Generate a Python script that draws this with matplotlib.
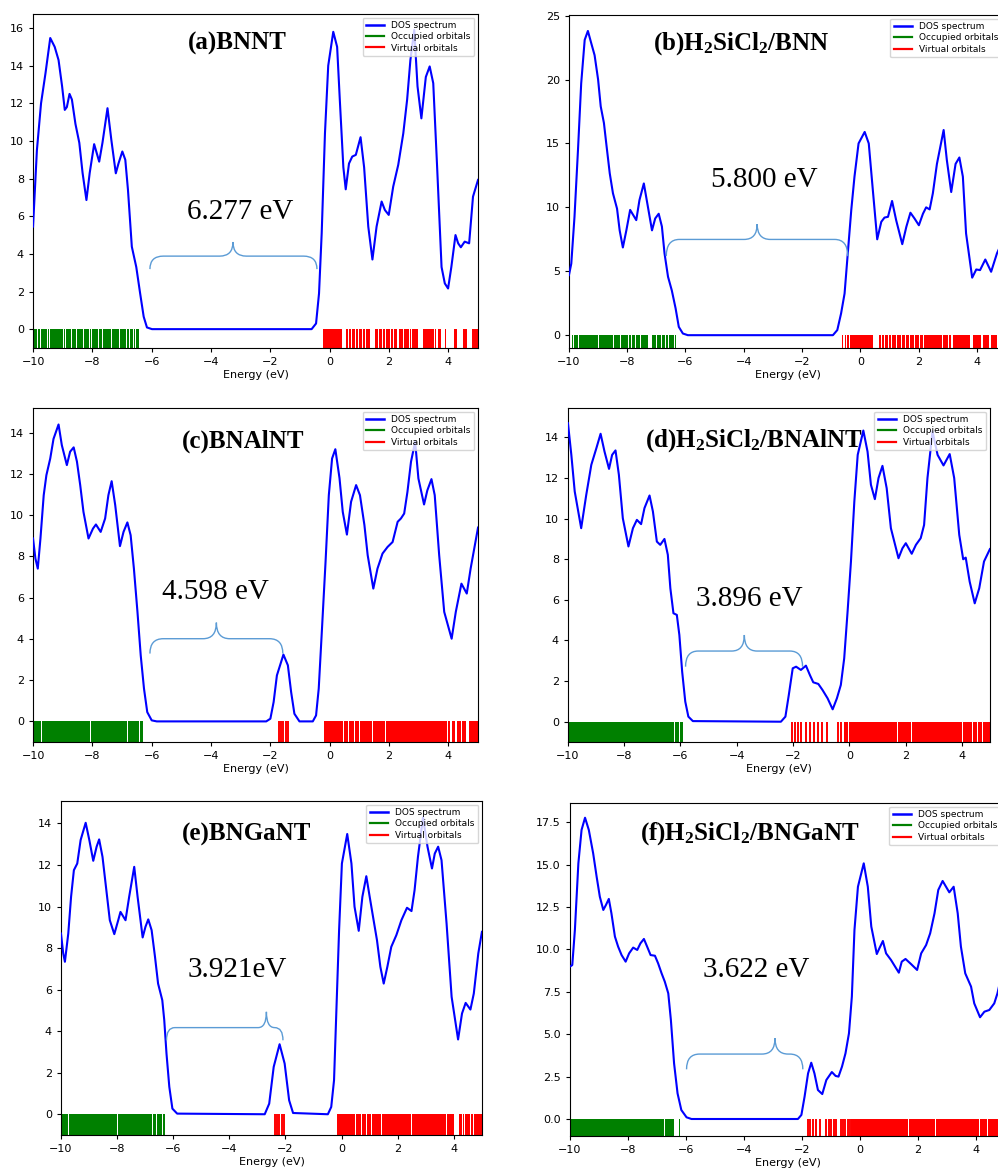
import matplotlib.pyplot as plt
import numpy as np
from matplotlib.lines import Line2D
from matplotlib.path import Path
from matplotlib.patches import PathPatch

plt.rcParams['mathtext.fontset'] = 'custom'
plt.rcParams['mathtext.rm'] = 'Liberation Serif:bold'
plt.rcParams['mathtext.it'] = 'Liberation Serif:bold'
plt.rcParams['mathtext.bf'] = 'Liberation Serif:bold'

# ---- DOS curves, (energy eV, DOS) ----
a_curve = [(-10.0, 5.45), (-9.87, 9.5), (-9.73, 12.0), (-9.58, 13.6), (-9.42, 15.47), (-9.27, 15.0),
           (-9.14, 14.3), (-9.02, 12.9), (-8.93, 11.65), (-8.86, 11.8), (-8.77, 12.5), (-8.69, 12.2),
           (-8.57, 10.9), (-8.44, 9.9), (-8.33, 8.3), (-8.20, 6.86), (-8.09, 8.3), (-7.94, 9.83),
           (-7.77, 8.9), (-7.66, 9.9), (-7.49, 11.74), (-7.36, 10.05), (-7.21, 8.28), (-7.12, 8.8),
           (-6.99, 9.44), (-6.89, 9.0), (-6.80, 7.4), (-6.67, 4.38), (-6.52, 3.3), (-6.39, 1.9),
           (-6.27, 0.66), (-6.16, 0.09), (-5.99, 0.0), (-0.61, 0.0), (-0.46, 0.3), (-0.36, 1.9),
           (-0.27, 5.1), (-0.16, 10.4), (-0.05, 14.0), (0.12, 15.8), (0.25, 15.0), (0.34, 12.2),
           (0.46, 8.6), (0.54, 7.43), (0.65, 8.8), (0.76, 9.17), (0.88, 9.26), (1.04, 10.2),
           (1.16, 8.6), (1.30, 5.45), (1.44, 3.7), (1.58, 5.45), (1.75, 6.78), (1.86, 6.33),
           (1.99, 6.07), (2.14, 7.57), (2.31, 8.73), (2.48, 10.4), (2.61, 12.2), (2.72, 14.3),
           (2.85, 15.9), (2.96, 12.9), (3.09, 11.2), (3.24, 13.4), (3.37, 13.96), (3.49, 13.07),
           (3.62, 8.64), (3.77, 3.3), (3.88, 2.43), (3.99, 2.16), (4.10, 3.3), (4.24, 5.0),
           (4.33, 4.56), (4.42, 4.35), (4.55, 4.65), (4.70, 4.56), (4.83, 7.04), (5.0, 7.93)]

b_curve = [(-10.0, 4.7), (-9.92, 5.6), (-9.81, 9.26), (-9.69, 14.5), (-9.58, 19.7), (-9.46, 23.1),
           (-9.35, 23.8), (-9.23, 22.8), (-9.12, 21.9), (-9.00, 20.0), (-8.91, 17.9), (-8.80, 16.6),
           (-8.72, 15.0), (-8.60, 12.66), (-8.49, 11.1), (-8.35, 9.9), (-8.26, 8.2), (-8.15, 6.86),
           (-8.03, 8.2), (-7.90, 9.8), (-7.69, 9.0), (-7.58, 10.57), (-7.43, 11.87), (-7.31, 10.3),
           (-7.15, 8.2), (-7.04, 9.13), (-6.92, 9.5), (-6.81, 8.5), (-6.72, 6.4), (-6.60, 4.57),
           (-6.47, 3.5), (-6.34, 2.1), (-6.23, 0.65), (-6.09, 0.13), (-5.92, 0.0), (-0.94, 0.0),
           (-0.79, 0.4), (-0.66, 1.7), (-0.54, 3.26), (-0.43, 6.4), (-0.31, 9.8), (-0.20, 12.4),
           (-0.06, 15.0), (0.15, 15.9), (0.29, 15.0), (0.43, 11.35), (0.58, 7.5), (0.72, 8.87),
           (0.83, 9.2), (0.95, 9.26), (1.09, 10.5), (1.23, 9.0), (1.44, 7.12), (1.58, 8.48),
           (1.72, 9.58), (1.86, 9.13), (2.01, 8.6), (2.15, 9.5), (2.26, 10.0), (2.38, 9.84),
           (2.49, 11.1), (2.63, 13.4), (2.86, 16.05), (2.97, 13.7), (3.12, 11.2), (3.27, 13.4),
           (3.40, 13.9), (3.52, 12.4), (3.63, 7.96), (3.84, 4.5), (3.98, 5.14), (4.11, 5.09),
           (4.29, 5.92), (4.49, 4.96), (4.69, 6.4), (4.85, 7.2), (5.0, 7.8)]

c_curve = [(-10.0, 8.87), (-9.92, 7.9), (-9.84, 7.41), (-9.75, 8.87), (-9.64, 10.97), (-9.55, 11.94),
           (-9.42, 12.75), (-9.31, 13.7), (-9.14, 14.4), (-9.03, 13.4), (-8.86, 12.43), (-8.75, 13.08),
           (-8.63, 13.29), (-8.52, 12.6), (-8.41, 11.46), (-8.30, 10.16), (-8.13, 8.87), (-7.98, 9.35),
           (-7.88, 9.55), (-7.72, 9.19), (-7.57, 9.84), (-7.46, 10.97), (-7.35, 11.65), (-7.23, 10.49),
           (-7.07, 8.5), (-6.95, 9.19), (-6.82, 9.65), (-6.71, 9.03), (-6.60, 7.41), (-6.48, 5.31),
           (-6.37, 3.2), (-6.26, 1.59), (-6.15, 0.45), (-6.00, 0.05), (-5.83, 0.0), (-2.14, 0.0),
           (-2.0, 0.13), (-1.89, 0.94), (-1.78, 2.23), (-1.56, 3.24), (-1.41, 2.72), (-1.30, 1.42),
           (-1.19, 0.37), (-1.02, 0.0), (-0.57, 0.0), (-0.46, 0.29), (-0.37, 1.59), (-0.26, 4.5),
           (-0.14, 7.74), (-0.03, 10.97), (0.08, 12.75), (0.19, 13.2), (0.33, 11.8), (0.44, 10.16),
           (0.58, 9.06), (0.72, 10.65), (0.89, 11.46), (1.02, 10.97), (1.17, 9.52), (1.28, 8.06),
           (1.47, 6.44), (1.61, 7.41), (1.78, 8.14), (1.95, 8.46), (2.12, 8.7), (2.29, 9.68),
           (2.40, 9.84), (2.51, 10.08), (2.62, 11.13), (2.74, 12.59), (2.88, 13.56), (2.99, 11.78),
           (3.18, 10.52), (3.29, 11.2), (3.43, 11.75), (3.54, 10.97), (3.69, 8.06), (3.86, 5.31),
           (4.11, 4.01), (4.25, 5.31), (4.44, 6.68), (4.62, 6.2), (4.75, 7.41), (5.0, 9.4)]

d_curve = [(-10.0, 14.7), (-9.88, 13.14), (-9.76, 11.34), (-9.53, 9.53), (-9.35, 11.17), (-9.17, 12.65),
           (-8.99, 13.47), (-8.84, 14.18), (-8.70, 13.3), (-8.54, 12.45), (-8.43, 13.14), (-8.31, 13.36),
           (-8.19, 12.16), (-8.05, 10.02), (-7.85, 8.63), (-7.69, 9.53), (-7.55, 9.94), (-7.40, 9.73),
           (-7.28, 10.52), (-7.10, 11.14), (-6.98, 10.35), (-6.84, 8.87), (-6.72, 8.71), (-6.57, 9.0),
           (-6.45, 8.22), (-6.36, 6.57), (-6.25, 5.34), (-6.13, 5.26), (-6.04, 4.27), (-5.94, 2.46),
           (-5.83, 0.99), (-5.72, 0.25), (-5.56, 0.03), (-2.43, 0.0), (-2.27, 0.25), (-2.15, 1.31),
           (-2.01, 2.63), (-1.89, 2.71), (-1.72, 2.55), (-1.54, 2.76), (-1.40, 2.3), (-1.28, 1.94),
           (-1.10, 1.86), (-0.95, 1.56), (-0.77, 1.15), (-0.59, 0.61), (-0.44, 1.15), (-0.30, 1.81),
           (-0.18, 3.12), (-0.06, 5.42), (0.06, 7.89), (0.18, 10.84), (0.30, 13.14), (0.50, 14.34),
           (0.65, 13.3), (0.77, 11.67), (0.91, 10.96), (1.04, 12.0), (1.18, 12.6), (1.33, 11.5),
           (1.48, 9.53), (1.75, 8.05), (1.89, 8.54), (2.01, 8.79), (2.22, 8.27), (2.37, 8.71),
           (2.54, 9.04), (2.66, 9.69), (2.78, 12.0), (2.96, 14.3), (3.14, 13.14), (3.35, 12.62),
           (3.57, 13.18), (3.73, 12.0), (3.91, 9.2), (4.05, 8.0), (4.14, 8.08), (4.28, 6.9),
           (4.46, 5.83), (4.62, 6.57), (4.79, 7.89), (5.0, 8.5)]

e_curve = [(-10.0, 8.7), (-9.92, 7.74), (-9.86, 7.34), (-9.74, 8.7), (-9.64, 10.47), (-9.54, 11.75),
           (-9.42, 12.07), (-9.30, 13.2), (-9.12, 14.03), (-8.99, 13.2), (-8.85, 12.2), (-8.73, 12.88),
           (-8.64, 13.23), (-8.52, 12.39), (-8.37, 10.63), (-8.26, 9.34), (-8.10, 8.67), (-7.96, 9.34),
           (-7.88, 9.74), (-7.70, 9.34), (-7.57, 10.47), (-7.39, 11.91), (-7.27, 10.47), (-7.09, 8.51),
           (-6.99, 9.02), (-6.89, 9.38), (-6.77, 8.86), (-6.65, 7.58), (-6.54, 6.29), (-6.39, 5.49),
           (-6.32, 4.53), (-6.24, 2.92), (-6.14, 1.32), (-6.03, 0.27), (-5.86, 0.03), (-2.74, 0.0),
           (-2.58, 0.51), (-2.42, 2.28), (-2.21, 3.37), (-2.03, 2.44), (-1.87, 0.67), (-1.73, 0.06),
           (-0.49, 0.0), (-0.37, 0.35), (-0.27, 1.64), (-0.19, 4.85), (-0.09, 8.86), (0.01, 12.07),
           (0.20, 13.49), (0.35, 12.07), (0.46, 9.99), (0.61, 8.83), (0.74, 10.47), (0.88, 11.46),
           (1.00, 10.47), (1.14, 9.34), (1.26, 8.38), (1.38, 7.1), (1.50, 6.29), (1.63, 7.1),
           (1.77, 8.06), (1.95, 8.62), (2.13, 9.34), (2.33, 9.94), (2.49, 9.78), (2.60, 10.79),
           (2.72, 12.39), (2.90, 14.29), (3.06, 12.88), (3.22, 11.83), (3.32, 12.55), (3.44, 12.88),
           (3.56, 12.23), (3.74, 9.18), (3.92, 5.65), (4.15, 3.6), (4.29, 4.85), (4.42, 5.36),
           (4.59, 5.04), (4.71, 5.81), (4.87, 7.74), (5.0, 8.78)]

f_curve = [(-10.0, 8.99), (-9.92, 9.08), (-9.83, 11.15), (-9.71, 15.08), (-9.60, 17.05), (-9.48, 17.77),
           (-9.35, 17.05), (-9.20, 15.67), (-9.08, 14.29), (-8.97, 13.11), (-8.85, 12.33), (-8.76, 12.62),
           (-8.66, 12.98), (-8.57, 12.13), (-8.45, 10.76), (-8.34, 10.17), (-8.22, 9.67), (-8.08, 9.28),
           (-7.96, 9.77), (-7.82, 10.11), (-7.68, 9.97), (-7.57, 10.36), (-7.45, 10.62), (-7.34, 10.17),
           (-7.22, 9.67), (-7.07, 9.63), (-6.96, 9.18), (-6.84, 8.59), (-6.73, 8.1), (-6.61, 7.41),
           (-6.52, 5.84), (-6.41, 3.28), (-6.29, 1.51), (-6.16, 0.53), (-5.98, 0.1), (-5.81, 0.0),
           (-2.14, 0.0), (-2.02, 0.24), (-1.91, 1.32), (-1.79, 2.69), (-1.68, 3.32), (-1.57, 2.69),
           (-1.45, 1.71), (-1.30, 1.47), (-1.16, 2.3), (-0.97, 2.77), (-0.84, 2.54), (-0.74, 2.5),
           (-0.62, 3.09), (-0.50, 3.87), (-0.38, 5.05), (-0.28, 7.22), (-0.19, 11.15), (-0.07, 13.7),
           (0.13, 15.08), (0.27, 13.7), (0.39, 11.35), (0.58, 9.73), (0.67, 10.07), (0.79, 10.5),
           (0.90, 9.77), (1.07, 9.38), (1.34, 8.63), (1.44, 9.28), (1.57, 9.44), (1.76, 9.14),
           (1.97, 8.79), (2.11, 9.77), (2.28, 10.26), (2.42, 10.95), (2.57, 12.13), (2.70, 13.51),
           (2.85, 14.04), (3.08, 13.37), (3.23, 13.7), (3.37, 12.13), (3.48, 10.17), (3.63, 8.59),
           (3.83, 7.81), (3.94, 6.82), (4.14, 6.0), (4.29, 6.33), (4.46, 6.43), (4.63, 6.82),
           (4.74, 7.41), (4.87, 8.4), (5.0, 9.5)]

# ---- orbital levels: (lo, hi) bands of dense levels, plus single levels ----
a_occ = [(-10.0, -9.87), (-9.84, -9.76), (-9.73, -9.54), (-9.51, -9.45), (-9.42, -9.24), (-9.21, -9.00),
         (-8.97, -8.91), (-8.88, -8.72), (-8.69, -8.55), (-8.52, -8.32), (-8.29, -8.23), (-8.20, -8.12),
         (-8.09, -8.04), (-8.01, -7.96), (-7.93, -7.82), (-7.79, -7.67), (-7.64, -7.37), (-7.34, -7.22),
         (-7.19, -7.11), (-7.08, -6.86), (-6.83, -6.75), (-6.72, -6.64), (-6.61, -6.55), (-6.52, -6.42)]
a_virt = [(-0.21, 0.40), (0.55, 0.63), (0.66, 0.73), (0.76, 0.84), (0.87, 0.97), (1.00, 1.08),
          (1.11, 1.20), (1.23, 1.36), (1.53, 1.62), (1.65, 1.76), (1.79, 1.88), (1.91, 2.02),
          (2.05, 2.13), (2.16, 2.26), (2.35, 2.48), (2.51, 2.66), (2.69, 2.74), (2.77, 2.99),
          (3.16, 3.30), (3.33, 3.40), (3.43, 3.52), (3.56, 3.59), (3.66, 3.74), (3.87, 3.91),
          (4.19, 4.28), (4.50, 4.62), (4.81, 5.0)]
a_virt_single = []

b_occ = [(-9.91, -9.86), (-9.83, -9.69), (-9.66, -9.00), (-8.97, -8.49), (-8.46, -8.26), (-8.23, -8.09),
         (-8.06, -7.97), (-7.94, -7.86), (-7.83, -7.74), (-7.71, -7.57), (-7.54, -7.29), (-7.14, -7.00),
         (-6.97, -6.83), (-6.80, -6.71), (-6.68, -6.60), (-6.57, -6.48), (-6.45, -6.39), (-6.36, -6.33)]
b_virt = [(-0.63, -0.58), (-0.53, -0.48), (-0.44, -0.38), (-0.34, 0.43), (0.63, 0.71), (0.74, 0.82),
          (0.85, 0.94), (0.97, 1.07), (1.10, 1.23), (1.26, 1.40), (1.43, 1.53), (1.56, 1.68),
          (1.71, 1.85), (1.88, 2.03), (2.06, 2.14), (2.17, 2.31), (2.34, 2.48), (2.51, 2.65),
          (2.68, 2.82), (2.85, 3.00), (3.03, 3.12), (3.18, 3.75), (3.86, 4.15), (4.21, 4.40),
          (4.49, 4.69), (4.78, 5.0)]
b_virt_single = []

c_occ = [(-10.0, -9.88), (-9.86, -9.73), (-9.70, -8.07), (-8.03, -7.92), (-7.90, -6.83),
         (-6.81, -6.43), (-6.41, -6.30)]
c_virt = [(-0.20, -0.13), (-0.11, 0.46), (0.48, 0.63), (0.65, 0.82), (0.84, 0.99), (1.01, 1.43),
          (1.47, 1.88), (1.91, 2.05), (2.08, 3.95), (3.99, 4.05), (4.13, 4.22), (4.30, 4.41),
          (4.47, 4.58), (4.69, 5.0)]
c_virt_single = [-1.71, -1.63, -1.56, -1.49, -1.40]

d_occ = [(-10.0, -9.48), (-9.46, -8.06), (-8.04, -7.88), (-7.86, -7.35), (-7.33, -7.13),
         (-7.11, -6.22), (-6.20, -6.14), (-6.12, -6.05), (-6.03, -5.92)]
d_virt = [(-0.18, -0.03), (-0.01, 0.94), (0.96, 1.71), (1.73, 2.21), (2.23, 4.01), (4.03, 4.25),
          (4.27, 4.37), (4.39, 4.55), (4.57, 4.72), (4.74, 5.0)]
d_virt_single = [-2.05, -1.93, -1.81, -1.70, -1.55, -1.40, -1.26, -1.11, -0.98, -0.79, -0.40, -0.30]

e_occ = [(-10.0, -9.75), (-9.73, -8.00), (-7.98, -7.73), (-7.71, -7.20), (-7.18, -6.87),
         (-6.85, -6.75), (-6.73, -6.61), (-6.59, -6.51), (-6.49, -6.40), (-6.38, -6.30)]
e_virt = [(-0.17, 0.04), (0.06, 0.49), (0.51, 0.69), (0.71, 0.87), (0.89, 1.05), (1.07, 1.40),
          (1.44, 2.49), (2.51, 3.46), (3.48, 3.72), (3.74, 4.01), (4.18, 4.28), (4.32, 4.37),
          (4.40, 4.49), (4.52, 4.58), (4.61, 4.67), (4.70, 5.0)]
e_virt_single = [-2.38, -2.30, -2.23, -2.13, -2.05]

f_occ = [(-10.0, -7.77), (-7.75, -6.76), (-6.74, -6.40), (-6.25, -6.21)]
f_virt = [(-0.30, 1.66), (1.68, 2.59), (2.61, 4.11), (4.13, 4.39), (4.41, 5.0)]
f_virt_single = [-1.79, -1.71, -1.62, -1.51, -1.39, -1.16, -1.07, -0.99, -0.91, -0.82,
                 -0.65, -0.57, -0.50, -0.42, -0.36]

titles = ['(a)BNNT', r'(b)H$_2$SiCl$_2$/BNN', '(c)BNAlNT',
          r'(d)H$_2$SiCl$_2$/BNAlNT', '(e)BNGaNT', r'(f)H$_2$SiCl$_2$/BNGaNT']
gap_labels = ['6.277 eV', '5.800 eV', '4.598 eV', '3.896 eV', '3.921eV', '3.622 eV']
y_tops = [16.75, 25.05, 15.2, 15.45, 15.08, 18.64]

curves = [a_curve, b_curve, c_curve, d_curve, e_curve, f_curve]
occupied = [a_occ, b_occ, c_occ, d_occ, e_occ, f_occ]
virtual = [a_virt, b_virt, c_virt, d_virt, e_virt, f_virt]
virtual_single = [a_virt_single, b_virt_single, c_virt_single, d_virt_single, e_virt_single, f_virt_single]

# layout (figure fractions) and annotation placement
axes_pos = [[0.0331, 0.7026, 0.4459, 0.2855], [0.5701, 0.7026, 0.4379, 0.2846],
            [0.0331, 0.3658, 0.4459, 0.2855], [0.5691, 0.3658, 0.4228, 0.2855],
            [0.0611, 0.0299, 0.4218, 0.2855], [0.5711, 0.0291, 0.4359, 0.2846]]
title_pos = [(0.46, 0.894), (0.394, 0.897), (0.473, 0.881), (0.442, 0.884), (0.442, 0.881), (0.414, 0.889)]
gap_pos = [(-3.01, 6.24), (-3.29, 12.13), (-3.84, 6.28), (-3.55, 6.03), (-3.71, 6.94), (-3.59, 8.79)]
# brace: x_left, x_right, x_tip, y_ends, y_bar, y_tip
braces = [(-6.06, -0.43, -3.26, 3.19, 3.88, 4.63),
          (-6.66, -0.43, -3.54, 6.18, 7.49, 8.69),
          (-6.06, -1.58, -3.82, 3.29, 4.01, 4.79),
          (-5.82, -1.66, -3.73, 2.71, 3.48, 4.27),
          (-6.24, -2.09, -2.68, 3.56, 4.17, 4.93),
          (-5.98, -1.97, -2.93, 2.93, 3.83, 4.76)]


def draw_brace(ax, x0, x1, xt, y0, yb, yt, r=0.45):
    r = min(r, (xt - x0) / 2, (x1 - xt) / 2)
    verts = [(x0, y0), (x0, yb), (x0 + r, yb), (xt - r, yb), (xt, yb), (xt, yt),
             (xt, yb), (xt + r, yb), (x1 - r, yb), (x1, yb), (x1, y0)]
    codes = [Path.MOVETO, Path.CURVE3, Path.CURVE3, Path.LINETO, Path.CURVE3, Path.CURVE3,
             Path.CURVE3, Path.CURVE3, Path.LINETO, Path.CURVE3, Path.CURVE3]
    ax.add_patch(PathPatch(Path(verts, codes), fc='none', ec='#5b9bd5', lw=1.0, zorder=4))


def draw_levels(ax, spans, singles, color):
    ax.broken_barh([(lo, hi - lo) for lo, hi in spans], (-1, 1), facecolors=color,
                   edgecolors='none', zorder=2)
    if singles:
        ax.vlines(singles, -1, 0, colors=color, lw=1.4, zorder=2)


fig = plt.figure(figsize=(9.98, 11.70), dpi=100)

for i in range(6):
    ax = fig.add_axes(axes_pos[i])
    e, d = np.array(curves[i]).T
    ax.plot(e, d, color='blue', lw=1.5, zorder=3, solid_joinstyle='round')
    draw_levels(ax, occupied[i], [], 'green')
    draw_levels(ax, virtual[i], virtual_single[i], 'red')

    ax.set_xlim(-10, 5)
    ax.set_ylim(-1, y_tops[i])
    ax.tick_params(labelsize=8, length=3, width=0.8)
    ax.set_xlabel('Energy (eV)', fontsize=8, labelpad=2)

    handles = [Line2D([], [], color='blue', lw=1.8),
               Line2D([], [], color='green', lw=1.6),
               Line2D([], [], color='red', lw=1.6)]
    ax.legend(handles, ['DOS spectrum', 'Occupied orbitals', 'Virtual orbitals'],
              loc='upper right', fontsize=6.5, labelspacing=0.25, handlelength=2.0,
              borderpad=0.4, borderaxespad=0.4)

    tx, ty = title_pos[i]
    ax.text(tx, ty, titles[i], transform=ax.transAxes, ha='center', va='baseline',
            fontsize=18, fontweight='bold', family='Liberation Serif', zorder=5)
    gx, gy = gap_pos[i]
    ax.text(gx, gy, gap_labels[i], ha='center', va='center', fontsize=21,
            family='Liberation Serif', zorder=5)
    draw_brace(ax, *braces[i])

fig.savefig('out.png', dpi=100)
